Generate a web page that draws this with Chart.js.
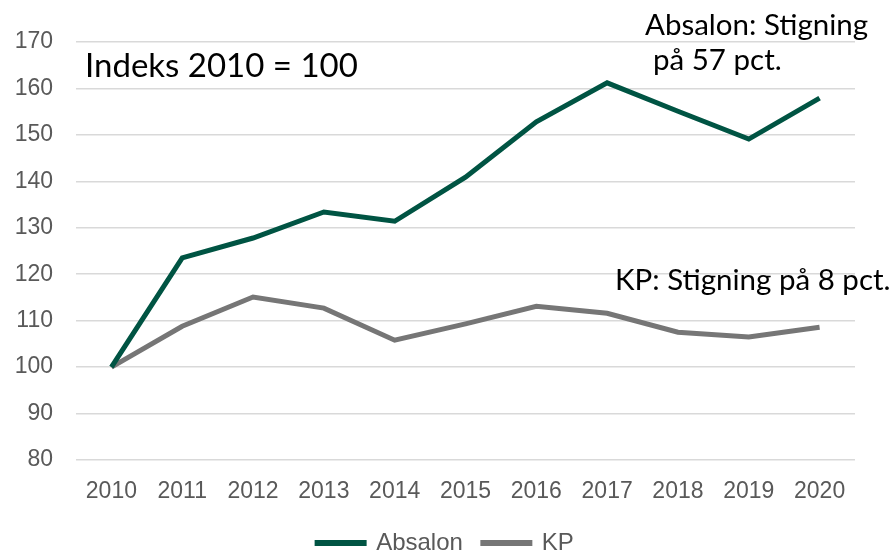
<!DOCTYPE html>
<html>
<head>
<meta charset="utf-8">
<script src="https://cdn.jsdelivr.net/npm/chart.js@4"></script>
<style>
  html, body { margin: 0; padding: 0; background: #fff; }
  #wrap { width: 891px; height: 551px; }
</style>
</head>
<body>
<div id="wrap"><canvas id="chart"></canvas></div>
<script>
const years = ['2010', '2011', '2012', '2013', '2014', '2015', '2016', '2017', '2018', '2019', '2020'];
const absalon = [100, 123.5, 127.8, 133.4, 131.4, 140.9, 152.8, 161.2, 155.1, 149.1, 157.9];
const kp = [100, 108.8, 115.1, 112.7, 105.8, 109.3, 113.1, 111.6, 107.5, 106.5, 108.6];
const notes = [
  { text: 'Indeks 2010 = 100', x: 85, y: 66, size: 33 },
  { text: 'Absalon: Stigning', x: 645, y: 25, size: 29.5 },
  { text: 'på 57 pct.', x: 653, y: 60, size: 29.5 },
  { text: 'KP: Stigning på 8 pct.', x: 615, y: 280, size: 29.5 }
];

// text boxes drawn on top, like the text fields in the original
const notePlugin = {
  id: 'notes',
  afterLayout(chart) {
    // centre the legend on the whole page, not on the padded box
    chart.legend.right = chart.width;
  },
  afterDraw(chart) {
    const c = chart.ctx;
    c.save();
    c.fillStyle = '#000';
    c.textBaseline = 'middle';
    c.textAlign = 'left';
    notes.forEach(n => {
      c.font = n.size + 'px Lato';
      c.fillText(n.text, n.x, n.y);
    });
    c.restore();
  }
};

const tickFont = { family: '"Liberation Sans", Arial', size: 23 };
const legendFont = { family: '"Liberation Sans", Arial', size: 24 };

const chart = new Chart(document.getElementById('chart'), {
  type: 'line',
  data: {
    labels: years,
    datasets: [
      { label: 'Absalon', data: absalon, borderColor: '#005443', backgroundColor: '#005443', borderWidth: 5, pointRadius: 0, tension: 0 },
      { label: 'KP', data: kp, borderColor: '#767676', backgroundColor: '#767676', borderWidth: 5, pointRadius: 0, tension: 0 }
    ]
  },
  options: {
    responsive: true,
    maintainAspectRatio: false,
    animation: false,
    // legend sits partly below the canvas edge, as in the original
    layout: { padding: { top: 42, right: 36, left: 0, bottom: -14 } },
    plugins: {
      tooltip: { enabled: false },
      legend: {
        position: 'bottom',
        labels: {
          font: legendFont,
          color: '#595959',
          boxWidth: 47,
          boxHeight: 1,
          padding: 20
        }
      }
    },
    scales: {
      x: {
        offset: true,
        afterFit(scale) { scale.height = 51; },
        grid: { display: false, drawTicks: false },
        border: { display: false },
        ticks: { font: tickFont, color: '#595959', padding: 18, maxRotation: 0 }
      },
      y: {
        min: 80,
        max: 170,
        afterFit(scale) { scale.width = 76; },
        grid: { color: '#d9d9d9', lineWidth: 1.5, drawTicks: false },
        border: { display: false },
        ticks: { stepSize: 10, font: tickFont, color: '#595959', padding: 23 }
      }
    }
  },
  plugins: [notePlugin]
});
</script>
</body>
</html>
